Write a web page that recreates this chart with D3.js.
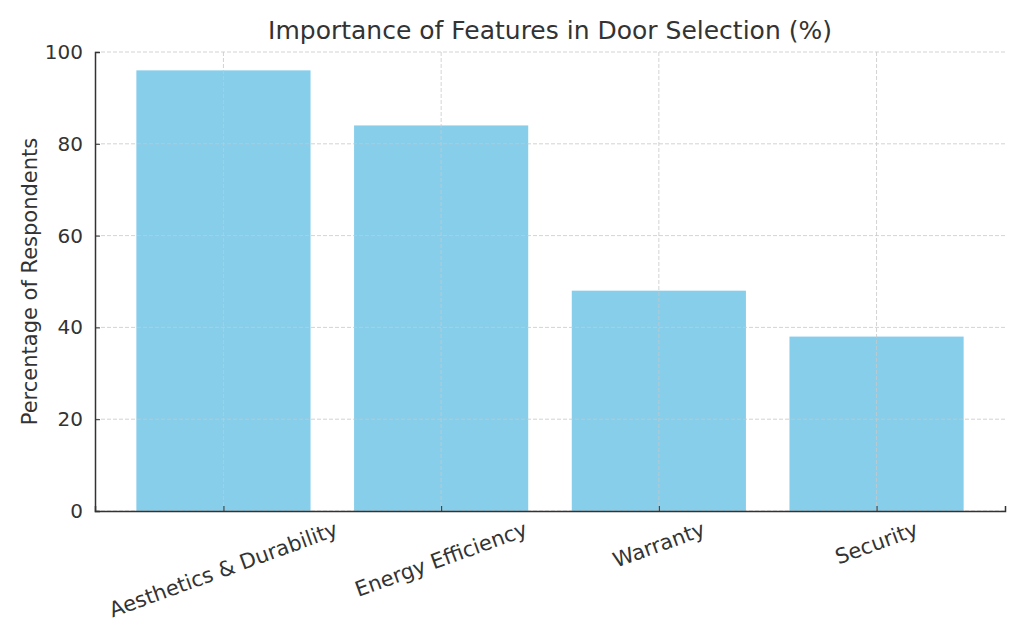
<!DOCTYPE html>
<html>
<head>
<meta charset="utf-8">
<script src="https://cdn.jsdelivr.net/npm/d3@7"></script>
<style>
  body { margin: 0; background: #fff; }
  text { font-family: "DejaVu Sans", sans-serif; fill: #333; }
</style>
</head>
<body>
<div id="chart"></div>
<script>
// data
const categories = ["Aesthetics & Durability", "Energy Efficiency", "Warranty", "Security"];
const values = [96, 84, 48, 38];
const yTicks = [0, 20, 40, 60, 80, 100];

const W = 1024, H = 640;
const margin = {top: 52, right: 19, bottom: 129, left: 95},
      width = W - margin.left - margin.right,
      height = H - margin.top - margin.bottom;

const svg = d3.select("#chart")
  .append("svg")
  .attr("width", W)
  .attr("height", H);

const g = svg.append("g")
  .attr("transform", `translate(${margin.left}, ${margin.top})`);

// x is index based, like matplotlib bar positions with 5% margins
const barW = 0.8;
const x = d3.scaleLinear()
  .domain([-0.59, categories.length - 1 + 0.59])
  .range([0, width]);

const y = d3.scaleLinear()
  .domain([0, 100])
  .range([height, 0]);

// bars
g.append("g")
  .selectAll("rect")
  .data(values)
  .join("rect")
    .attr("x", (d, i) => x(i - barW / 2))
    .attr("width", (d, i) => x(i + barW / 2) - x(i - barW / 2))
    .attr("y", d => y(d))
    .attr("height", d => y(0) - y(d))
    .style("fill", "#87CEEB");

// grid (drawn over the bars)
const grid = g.append("g").attr("class", "grid");
grid.selectAll("line.h")
  .data(yTicks)
  .join("line")
    .attr("class", "h")
    .attr("x1", 0).attr("x2", width)
    .attr("y1", d => y(d)).attr("y2", d => y(d));
grid.selectAll("line.v")
  .data(categories)
  .join("line")
    .attr("class", "v")
    .attr("x1", (d, i) => x(i)).attr("x2", (d, i) => x(i))
    .attr("y1", 0).attr("y2", height);
grid.selectAll("line")
  .attr("stroke", "#c8c8c8")
  .attr("stroke-width", 0.8)
  .attr("stroke-dasharray", "4,2");

// y axis
const yAxis = g.append("g")
  .call(d3.axisLeft(y).tickValues(yTicks).tickSize(-5).tickPadding(12));
yAxis.select(".domain").attr("stroke", "#333").attr("stroke-width", 1.5);
yAxis.selectAll(".tick line").attr("stroke", "#333");
yAxis.selectAll(".tick text").style("font-size", "20px");

// x axis
const xAxis = g.append("g")
  .attr("transform", `translate(0, ${height})`)
  .call(d3.axisBottom(x).tickValues(d3.range(categories.length)).tickSize(-5).tickFormat(""));
xAxis.select(".domain").attr("stroke", "#333").attr("stroke-width", 1.5);
xAxis.selectAll(".tick line").attr("stroke", "#333");

// rotated category labels, top of rotated box hangs just under the axis
const angle = 20, labelSize = 21, labelTop = 6;
const rad = angle * Math.PI / 180;
g.append("g")
  .selectAll("text")
  .data(categories)
  .join("text")
    .attr("text-anchor", "middle")
    .attr("dominant-baseline", "central")
    .style("font-size", labelSize + "px")
    .text(d => d)
    .attr("transform", function(d, i) {
      const L = this.getComputedTextLength();
      const boxH = L * Math.sin(rad) + labelSize * 1.16 * Math.cos(rad);
      return `translate(${x(i)}, ${height + labelTop + boxH / 2}) rotate(${-angle})`;
    });

// y label
svg.append("text")
  .attr("transform", `translate(30, ${margin.top + height / 2}) rotate(-90)`)
  .attr("text-anchor", "middle")
  .attr("dominant-baseline", "central")
  .style("font-size", "21px")
  .text("Percentage of Respondents");

// title
svg.append("text")
  .attr("x", margin.left + width / 2)
  .attr("y", 30)
  .attr("text-anchor", "middle")
  .attr("dominant-baseline", "central")
  .style("font-size", "25px")
  .text("Importance of Features in Door Selection (%)");
</script>
</body>
</html>
